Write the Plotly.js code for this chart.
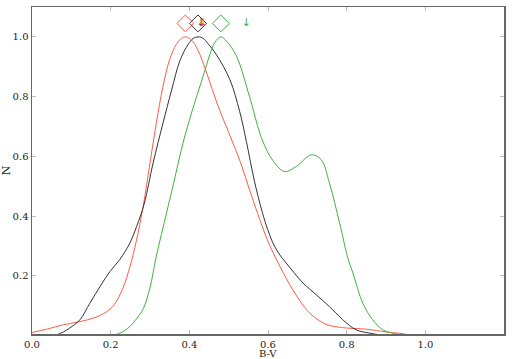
<!DOCTYPE html>
<html>
<head>
<meta charset="utf-8">
<script src="https://cdn.plot.ly/plotly-3.0.1.min.js"></script>
<style>
  html, body { margin: 0; padding: 0; background: #fff; }
  #plot { width: 513px; height: 359px; }
</style>
</head>
<body>
<div id="plot"></div>
<script>
// red curve
var redX = [0.0, 0.04, 0.08, 0.12, 0.16, 0.19, 0.21, 0.23, 0.25, 0.265, 0.283, 0.30, 0.316, 0.333, 0.35, 0.367, 0.38, 0.391,
            0.405, 0.422, 0.447, 0.47, 0.50, 0.53, 0.555, 0.58, 0.60, 0.63, 0.663, 0.69, 0.706, 0.73, 0.75, 0.775,
            0.80, 0.85, 0.90, 0.935, 0.95];
var redY = [0.010, 0.022, 0.036, 0.046, 0.060, 0.080, 0.105, 0.155, 0.235, 0.315, 0.435, 0.578, 0.711, 0.834, 0.924, 0.975, 0.995, 1.0,
            0.990, 0.955, 0.868, 0.779, 0.680, 0.580, 0.480, 0.385, 0.315, 0.232, 0.153, 0.100, 0.075, 0.050, 0.036, 0.029,
            0.025, 0.021, 0.012, 0.007, 0.005];
// black curve
var blackX = [0.063, 0.08, 0.096, 0.122, 0.147, 0.173, 0.198, 0.223, 0.249, 0.266, 0.285, 0.308, 0.333, 0.355, 0.376, 0.397,
              0.41, 0.422, 0.435, 0.447, 0.469, 0.503, 0.528, 0.545, 0.565, 0.585, 0.60, 0.615, 0.63, 0.646, 0.689, 0.723,
              0.756, 0.79, 0.824, 0.858, 0.88];
var blackY = [0.002, 0.012, 0.025, 0.053, 0.108, 0.164, 0.214, 0.254, 0.310, 0.365, 0.440, 0.578, 0.711, 0.822, 0.920, 0.975,
              0.995, 1.0, 0.995, 0.978, 0.940, 0.857, 0.750, 0.650, 0.520, 0.415, 0.352, 0.303, 0.270, 0.243, 0.176, 0.136,
              0.097, 0.053, 0.019, 0.008, 0.003];
// green curve
var greenX = [0.206, 0.23, 0.249, 0.265, 0.283, 0.30, 0.316, 0.342, 0.36, 0.384, 0.409, 0.435, 0.452, 0.465, 0.48,
              0.495, 0.52, 0.553, 0.585, 0.613, 0.642, 0.672, 0.71, 0.735, 0.756, 0.782, 0.803, 0.816, 0.841, 0.866,
              0.892, 0.917, 0.93];
var greenY = [0.0, 0.012, 0.030, 0.055, 0.090, 0.160, 0.265, 0.410, 0.510, 0.645, 0.760, 0.868, 0.940, 0.982, 1.0,
              0.985, 0.935, 0.800, 0.656, 0.585, 0.549, 0.566, 0.605, 0.589, 0.511, 0.377, 0.259, 0.209, 0.108, 0.053,
              0.019, 0.008, 0.004];

// peak markers (diamonds) and arrows
var diamondX = [0.39, 0.422, 0.48];
var arrowX = [0.43, 0.435, 0.545];
var markY = 1.045;

var colRed = '#ff5a48';
var colBlack = '#333333';
var colGreen = '#3cb43c';
var cols = [colRed, colBlack, colGreen];

function curve(x, y, c) {
    return { x: x, y: y, type: 'scatter', mode: 'lines', line: { color: c, width: 1, shape: 'spline', smoothing: 1 }, hoverinfo: 'none' };
}

var traces = [
    curve(redX, redY, colRed),
    curve(blackX, blackY, colBlack),
    curve(greenX, greenY, colGreen),
    {
        x: diamondX, y: diamondX.map(function () { return markY; }),
        type: 'scatter', mode: 'markers',
        marker: { symbol: 'diamond-open', size: 13, color: cols, line: { width: 1, color: cols } }
    },
    {
        x: arrowX, y: arrowX.map(function () { return markY; }),
        type: 'scatter', mode: 'text', text: ['↓', '↓', '↓'],
        textfont: { family: 'DejaVu Sans', size: 11, color: [colBlack, colRed, colGreen] }
    }
];

var layout = {
    width: 513,
    height: 359,
    margin: { l: 32, r: 9, t: 7, b: 25 },
    showlegend: false,
    paper_bgcolor: '#fff',
    plot_bgcolor: '#fff',
    font: { family: 'DejaVu Serif', size: 10, color: '#222' },
    xaxis: {
        range: [0, 1.2], tickvals: [0, 0.2, 0.4, 0.6, 0.8, 1.0], ticktext: ['0.0', '0.2', '0.4', '0.6', '0.8', '1.0'],
        showgrid: false, zeroline: false, showline: true, linecolor: '#666', linewidth: 1.5, mirror: 'ticks',
        ticks: 'inside', ticklen: 4, tickcolor: '#bbb'
    },
    yaxis: {
        range: [0.005, 1.1], tickvals: [0.2, 0.4, 0.6, 0.8, 1.0], ticktext: ['0.2', '0.4', '0.6', '0.8', '1.0'],
        showgrid: false, zeroline: false, showline: true, linecolor: '#666', linewidth: 1.5, mirror: 'ticks',
        ticks: 'inside', ticklen: 4, tickcolor: '#bbb',
        title: { text: 'N', standoff: 6, font: { family: 'DejaVu Serif', size: 11 } }
    },
    annotations: [{
        text: 'B-V', xref: 'paper', yref: 'paper', x: 0.5, y: 0, xanchor: 'center', yanchor: 'top',
        yshift: -12, showarrow: false, font: { family: 'DejaVu Serif', size: 10, color: '#222' }
    }]
};

Plotly.newPlot('plot', traces, layout, { staticPlot: true });
</script>
</body>
</html>
